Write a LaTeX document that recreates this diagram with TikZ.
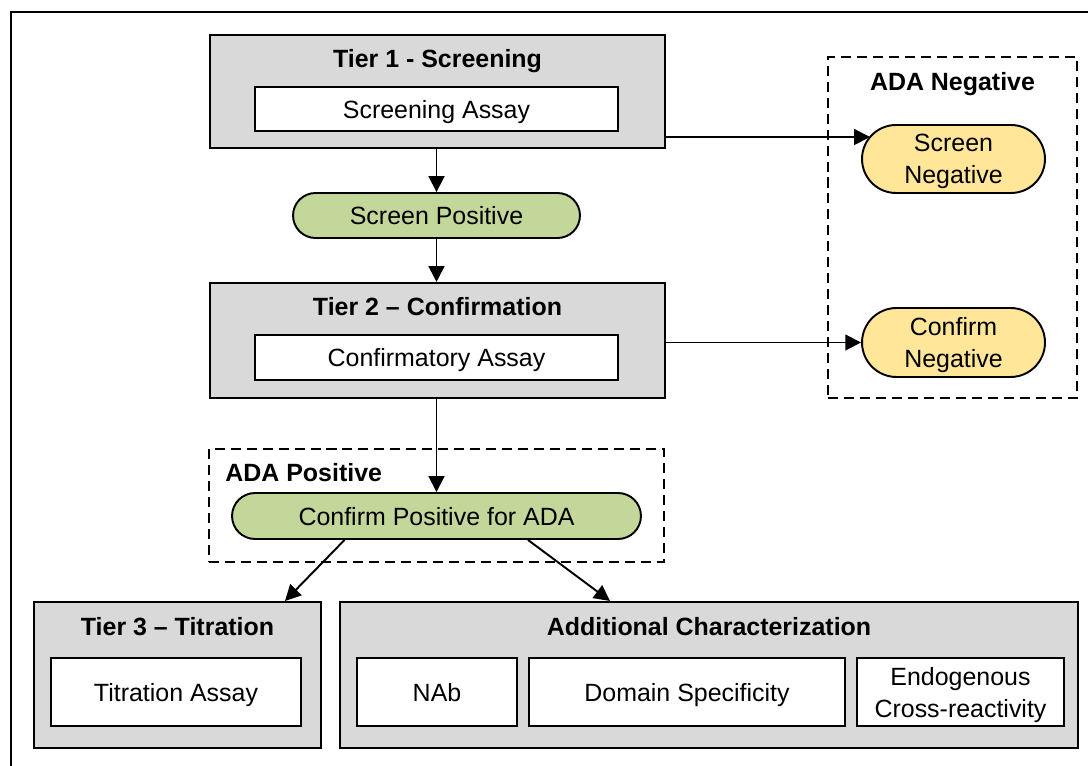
\documentclass[tikz,border=0pt]{standalone}
\usepackage{fontspec}
\setmainfont{Liberation Sans}
\usetikzlibrary{arrows.meta,calc,shapes.misc}
\definecolor{boxgray}{HTML}{D9D9D9}
\definecolor{posgreen}{HTML}{C4D79B}
\definecolor{neggold}{HTML}{FFE699}
\begin{document}
\begin{tikzpicture}[
	x=0.02cm,y=-0.02cm,
	font=\fontsize{14.2}{18.2}\selectfont,
	arr/.style={-{Triangle[length=9pt,width=9pt]},line width=1.1pt},
	tierbox/.style={draw,line width=1.2pt,fill=boxgray,inner sep=0pt},
	assaybox/.style={draw,line width=1.2pt,fill=white,inner sep=0pt,align=center,text depth=0pt},
	pill/.style={draw,line width=1.1pt,rounded rectangle,inner sep=0pt,align=center,text depth=0pt},
	groupbox/.style={draw,line width=1pt,dash pattern=on 5.7pt off 3.4pt,inner sep=0pt},
	title/.style={font=\fontsize{14.2}{18.2}\selectfont\bfseries,text depth=0pt}
	]
	\useasboundingbox (0,0) rectangle (1088,766);
	\clip (0,0) rectangle (1088,766);
	\draw[line width=1.2pt] (1100,12) -- (11,12) -- (11,780);
	% dashed groups
	\node[groupbox,minimum width=9.1cm,minimum height=2.26cm] (adapos) at (436.5,505.5) {};
	\node[title,anchor=west] (adaposlbl) at ($(adapos.north west)+(11,24)$) {ADA Positive};
	\node[groupbox,minimum width=4.98cm,minimum height=6.82cm] (adaneg) at (952.5,227.5) {};
	\node[title] (adaneglbl) at ($(adaneg.north)+(0,25)$) {ADA Negative};
	% tier 1
	\node[tierbox,minimum width=9.1cm,minimum height=2.26cm] (t1) at (437.5,91.5) {};
	\node[title] (t1lbl) at ($(t1.north)+(0,25)$) {Tier 1 - Screening};
	\node[assaybox,minimum width=7.26cm,minimum height=0.88cm] (sa) at (436.5,109) {Screening Assay};
	\node[pill,fill=posgreen,minimum width=5.74cm,minimum height=0.9cm] (spos) at (436.5,215.5) {Screen Positive};
	% tier 2
	\node[tierbox,minimum width=9.1cm,minimum height=2.3cm] (t2) at (437.5,340.5) {};
	\node[title] (t2lbl) at ($(t2.north)+(0,25)$) {Tier 2 -- Confirmation};
	\node[assaybox,minimum width=7.26cm,minimum height=0.9cm] (ca) at (436.5,357.5) {Confirmatory Assay};
	\node[pill,fill=posgreen,minimum width=8.18cm,minimum height=0.92cm] (cpos) at (436.5,516) {Confirm Positive for ADA};
	% negatives
	\node[pill,fill=neggold,minimum width=3.66cm,minimum height=1.36cm] (sneg) at (953.5,159) {Screen\\Negative};
	\node[pill,fill=neggold,minimum width=3.66cm,minimum height=1.38cm] (cneg) at (953.5,342.5) {Confirm\\Negative};
	% tier 3 and characterization
	\node[tierbox,minimum width=5.74cm,minimum height=2.92cm] (t3) at (177.5,675) {};
	\node[title] (t3lbl) at ($(t3.north)+(0,25)$) {Tier 3 -- Titration};
	\node[assaybox,minimum width=5cm,minimum height=1.36cm] (ta) at (176,692) {Titration Assay};
	\node[tierbox,minimum width=14.76cm,minimum height=2.92cm] (ac) at (709,675) {};
	\node[title] (aclbl) at ($(ac.north)+(0,25)$) {Additional Characterization};
	\node[assaybox,minimum width=3.2cm,minimum height=1.36cm] (nab) at (437,692) {NAb};
	\node[assaybox,minimum width=6.32cm,minimum height=1.36cm] (ds) at (687,692) {Domain Specificity};
	\node[assaybox,minimum width=4.14cm,minimum height=1.36cm] (ecr) at (960.5,692) {Endogenous\\Cross-reactivity};
	% connectors
	\coordinate (snin) at (870,137);
	\draw[arr] (spos.north |- t1.south) -- (spos.north);
	\draw[arr] (spos.south) -- (spos.south |- t2.north);
	\draw[arr] (cpos.north |- t2.south) -- (cpos.north);
	\draw[arr] (t1.east |- snin) -- (snin);
	\draw[arr] (t2.east |- cneg.west) -- (cneg.west);
	\draw[arr] ($(cpos.south)+(-92,0)$) -- ($(t3.north)+(107.5,0)$);
	\draw[arr] ($(cpos.south)+(91.5,0)$) -- ($(ac.north)+(-99,0)$);
\end{tikzpicture}
\end{document}
